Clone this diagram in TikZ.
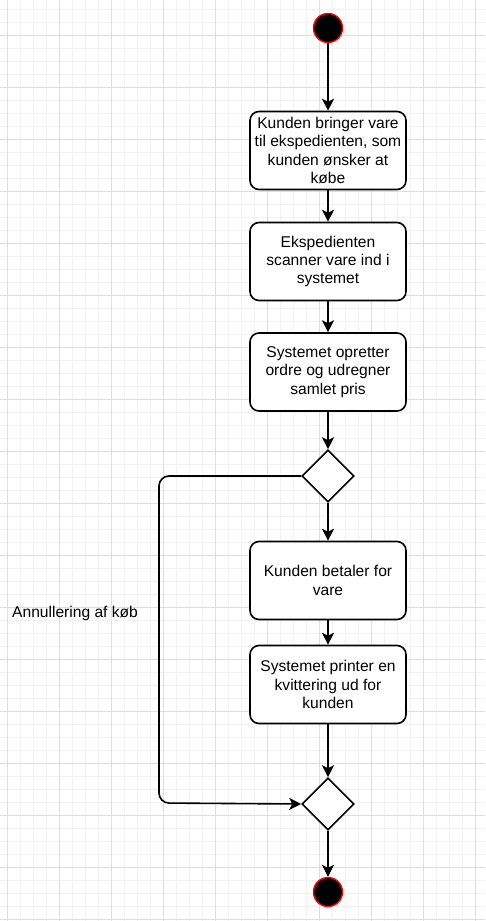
\documentclass[tikz,border=0pt]{standalone}
\usepackage{fontspec}
\setmainfont{Liberation Sans}
\usepackage{tikz}
\usetikzlibrary{arrows.meta}
\usetikzlibrary{shapes.geometric}

\tikzset{
    gridminor/.style={draw=black!5, line width=1pt},
    gridmajor/.style={draw=black!13, line width=1pt},
    activity/.style={draw, line width=1.6pt, rounded corners=9pt, minimum width=156pt, minimum height=78pt, align=center, font=\fontsize{15.6}{18.3}\selectfont, fill=white, inner sep=0pt},
    decision/.style={draw, line width=1.6pt, diamond, minimum width=52pt, minimum height=52pt, inner sep=0pt, fill=white},
    terminal/.style={circle, draw=red, fill=black, line width=1.4pt, minimum size=29pt, inner sep=0pt},
    flow/.style={line width=1.6pt, -{Stealth[length=12pt, width=12pt, inset=3pt]}},
}

\begin{document}
\begin{tikzpicture}[x=1pt, y=-1pt]
    \useasboundingbox (0, 0) rectangle (485, 921);
    \fill[white] (0, 0) rectangle (485, 921);
    % grid
    \foreach \x in {7,20,...,485} \draw[gridminor] (\x, 0) -- (\x, 921);
    \foreach \y in {9,22,...,921} \draw[gridminor] (0, \y) -- (485, \y);
    \foreach \x in {7,59,...,485} \draw[gridmajor] (\x, 0) -- (\x, 921);
    \foreach \y in {35,87,...,921} \draw[gridmajor] (0, \y) -- (485, \y);

    \node[terminal] (start) at (328, 28) {};
    \node[activity] (bring) at (328, 150.5) {Kunden bringer vare\\til ekspedienten, som\\kunden ønsker at\\købe};
    \node[activity] (scan) at (328, 261.5) {Ekspedienten\\scanner vare ind i\\systemet};
    \node[activity] (order) at (328, 372) {Systemet opretter\\ordre og udregner\\samlet pris};
    \node[decision] (split) at (328, 476) {};
    \node[activity] (pay) at (328, 580.5) {Kunden betaler for\\vare};
    \node[activity] (receipt) at (328, 684.5) {Systemet printer en\\kvittering ud for\\kunden};
    \node[decision] (merge) at (328, 804) {};
    \node[terminal] (stop) at (328, 892) {};
    \node[anchor=west, inner sep=0pt, font=\fontsize{15.6}{18.3}\selectfont] (cancel) at (12, 613) {Annullering af køb};

    \coordinate (looptop) at (159, 476);
    \coordinate (loopbot) at (159, 803);

    \draw[flow] (start) -- (bring);
    \draw[flow] (bring) -- (scan);
    \draw[flow] (scan) -- (order);
    \draw[flow] (order) -- (split);
    \draw[flow] (split) -- (pay);
    \draw[flow] (pay) -- (receipt);
    \draw[flow] (receipt) -- (merge);
    \draw[flow] (merge) -- (stop);
    \draw[flow, rounded corners=10pt] (split.west) -- (looptop) -- (loopbot) -- (merge.west);
\end{tikzpicture}
\end{document}
